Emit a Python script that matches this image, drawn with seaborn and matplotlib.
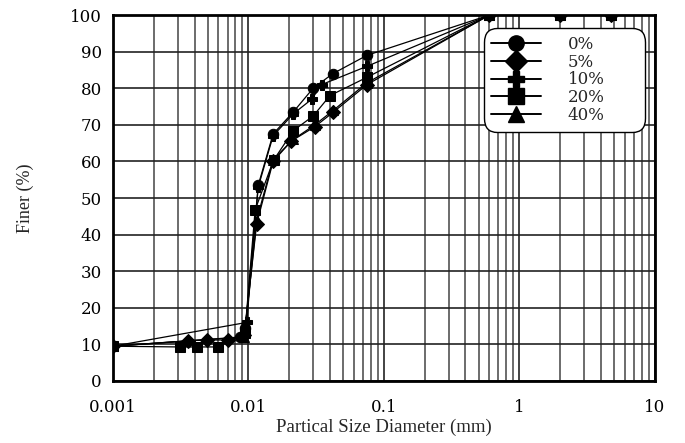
import numpy as np
import pandas as pd
import seaborn as sns
import matplotlib.pyplot as plt
from matplotlib.ticker import FixedLocator, NullFormatter, LogLocator
from matplotlib.lines import Line2D

# Grain size distribution (sieve + hydrometer) for each additive content
labels = ["0%", "5%", "10%", "20%", "40%"]
markers = ["o", "D", "P", "s", "^"]

d_0 = [4.75, 2.0, 0.6, 0.075, 0.042, 0.030, 0.0214, 0.0152, 0.0118, 0.0095, 0.0086, 0.001]
p_0 = [100, 100, 100, 89.0, 84.0, 80.0, 73.5, 67.5, 53.5, 14.5, 12.0, 9.5]

d_5 = [4.75, 2.0, 0.6, 0.075, 0.0424, 0.0309, 0.0206, 0.0152, 0.0115, 0.0093, 0.0070, 0.0049, 0.0036, 0.001]
p_5 = [100, 100, 100, 81.0, 73.5, 69.5, 65.5, 60.0, 43.0, 12.5, 11.2, 11.2, 11.0, 9.5]

d_10 = [4.75, 2.0, 0.6, 0.075, 0.0347, 0.0293, 0.0214, 0.0152, 0.0118, 0.0097, 0.001]
p_10 = [100, 100, 100, 86.0, 81.0, 77.0, 73.0, 67.0, 53.0, 16.0, 9.5]

d_20 = [4.75, 2.0, 0.6, 0.075, 0.040, 0.030, 0.0214, 0.0153, 0.0112, 0.0094, 0.0060, 0.0042, 0.0031, 0.001]
p_20 = [100, 100, 100, 83.0, 78.0, 72.4, 68.4, 60.3, 46.8, 13.0, 9.3, 9.3, 9.3, 9.5]

d_40 = [4.75, 2.0, 0.6, 0.075, 0.0424, 0.0309, 0.0214, 0.0152, 0.0115, 0.0093, 0.001]
p_40 = [100, 100, 100, 81.5, 74.0, 70.0, 66.0, 60.5, 44.0, 12.0, 9.5]

series = {
    "0%": (d_0, p_0),
    "5%": (d_5, p_5),
    "10%": (d_10, p_10),
    "20%": (d_20, p_20),
    "40%": (d_40, p_40),
}

frames = []
for lab, (d, p) in series.items():
    frames.append(pd.DataFrame({"Diameter": d, "Finer": p, "Mix": lab}))
df = pd.concat(frames, ignore_index=True)

sns.set_style("white")
plt.rcParams["font.family"] = ["DejaVu Serif"]

fig = plt.figure(figsize=(6.85, 4.43), dpi=100)
ax = fig.add_axes([0.165, 0.14, 0.791, 0.826])

sns.lineplot(
    data=df, x="Diameter", y="Finer", hue="Mix", style="Mix",
    hue_order=labels, style_order=labels,
    palette=["black"] * 5, markers=dict(zip(labels, markers)),
    dashes=False, sort=False, estimator=None, ax=ax,
    linewidth=0.9, markersize=7.5, markeredgecolor="black", legend=False,
)

ax.set_xscale("log")
ax.set_xlim(0.001, 10)
ax.set_ylim(0, 100)

# grid on every log subdivision and every 10 %
ax.xaxis.set_major_locator(FixedLocator([0.001, 0.01, 0.1, 1, 10]))
ax.set_xticklabels(["0.001", "0.01", "0.1", "1", "10"])
ax.xaxis.set_minor_locator(LogLocator(base=10, subs=np.arange(2, 10)))
ax.xaxis.set_minor_formatter(NullFormatter())
ax.set_yticks(np.arange(0, 101, 10))
ax.set_yticks(np.arange(0, 101, 2), minor=True)

ax.grid(True, which="major", axis="both", color="#222222", linewidth=1.2)
ax.grid(True, which="minor", axis="x", color="#444444", linewidth=1.1)

ax.tick_params(axis="both", which="major", direction="in", length=7, width=1.2,
               labelsize=12, colors="black")
ax.tick_params(axis="x", which="major", pad=13)
ax.tick_params(axis="y", which="major", pad=8)
ax.tick_params(axis="both", which="minor", direction="in", length=4, width=1.0)
for s in ax.spines.values():
    s.set_linewidth(2)
    s.set_color("black")

ax.set_xlabel("Partical Size Diameter (mm)", fontsize=13.5,
              family=["Liberation Serif"], labelpad=2)
ax.set_ylabel("Finer (%)", fontsize=13, family=["Liberation Serif"],
              labelpad=26)

# legend with large filled symbols, in a rounded box in the upper right
handles = [Line2D([0], [0], marker=m, color="black", linestyle="-", linewidth=1.4,
                  markersize=11, markerfacecolor="black") for m in markers]
leg = ax.legend(handles, labels, loc="upper left",
                bbox_to_anchor=(0.684, 0.0, 0.298, 0.964), mode="expand",
                fancybox=True, framealpha=1, edgecolor="black", fontsize=12,
                handlelength=3.0, labelspacing=0.05, borderpad=0.45,
                handletextpad=1.6, borderaxespad=0.0)
leg.get_frame().set_linewidth(1.0)
leg.get_frame().set_boxstyle("round,pad=0,rounding_size=0.8")

fig.savefig("out.png", dpi=100, facecolor="white")
